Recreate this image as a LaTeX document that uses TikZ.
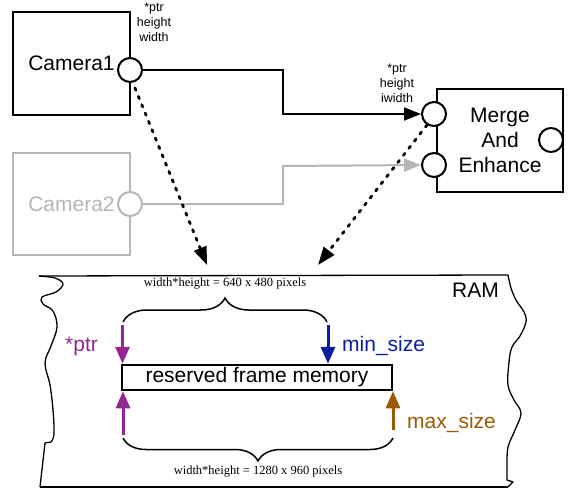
\documentclass[tikz,border=0pt]{standalone}
\usepackage{fontspec}
\setmainfont{Liberation Sans}
\newfontfamily\serifx{Liberation Serif}
\usetikzlibrary{arrows.meta,decorations.pathreplacing,calc}
\definecolor{purp}{RGB}{147,39,143}
\definecolor{dblue}{RGB}{10,30,160}
\definecolor{brn}{RGB}{155,90,0}
\definecolor{lgray}{RGB}{182,182,182}
\begin{document}
\begin{tikzpicture}[x=1pt,y=-1pt,
  compbox/.style={draw, line width=2pt, inner sep=0pt, font=\fontsize{21}{25}\selectfont},
  port/.style={draw, circle, fill=white, line width=2pt, minimum size=24pt, inner sep=0pt},
  conn/.style={line width=2pt, -{Triangle[length=17pt,width=13pt]}},
  dotarrow/.style={line width=2.8pt, line cap=round, dash pattern=on 2.5pt off 6.5pt, -{Triangle[length=18pt,width=13pt]}},
  smalllab/.style={align=center, font=\fontsize{12.5}{15}\selectfont, inner sep=0pt},
  biglab/.style={font=\fontsize{21}{25}\selectfont, inner sep=0pt},
  seriflab/.style={font=\serifx\fontsize{12.5}{15}\selectfont, inner sep=0pt},
  colarrow/.style={line width=3pt, -{Triangle[length=17pt,width=14pt]}},
  bracestyle/.style={line width=1.5pt, decorate, decoration={brace, amplitude=24pt, aspect=0.5}},
  ramline/.style={line width=1.3pt, line join=round}
]
\useasboundingbox (0,0) rectangle (572,489);

% components
\node[compbox, minimum width=117pt, minimum height=103pt] (cam1) at (71.5,63.5) {Camera1};
\node[compbox, draw=lgray, text=lgray, minimum width=117pt, minimum height=102pt] (cam2) at (71.5,204) {Camera2};
\node[compbox, minimum width=126pt, minimum height=103pt, align=center] (merge) at (500,140.5) {Merge\\And\\Enhance};

\node[port] (p1) at (130,70) {};
\node[port, draw=lgray] (p2) at (130,204) {};
\node[port] (m1) at (434,114) {};
\node[port] (m2) at (434,165) {};
\node[port] (m3) at (551,140) {};

% labels
\node[smalllab] (l1) at (154,22.5) {*ptr\\height\\width};
\node[smalllab] (l2) at (397,83) {*ptr\\height\\iwidth};

% connectors
\coordinate (b1) at (283,70);
\coordinate (b2) at (283,114);
\draw[conn, line join=miter] (p1.east) -- (b1) -- (b2) -- (m1.west);
\coordinate (g1) at (283,204);
\coordinate (g2) at (283,166);
\draw[conn, lgray] (p2.east) -- (g1) -- (g2) -- (m2.west);

% RAM
\coordinate (r1) at (39,276);
\coordinate (r2) at (508,275);
\coordinate (r3) at (508,487);
\coordinate (r4) at (40,487);
\draw[ramline] (r1) -- (r2);
\draw[ramline] (r4) -- (r3);
\draw[ramline] plot[smooth, tension=0.6] coordinates {(508,275) (511,288) (516,300) (524,312) (526,322) (520,336) (512,347) (509,362) (508,385) (514,400) (521,413) (515,430) (508,447) (507,465) (507,480)} -- (513,482) -- (508,487);
\draw[ramline] plot[smooth, tension=0.6] coordinates {(39,276) (55,278) (63,284) (56,292) (42,297) (43,304) (53,311) (57,327) (51,346) (45,363) (50,385) (53,410) (54,434) (51,442)} -- (45,443) -- (40,487);
\node[biglab, anchor=base east] (ram) at (499,297) {RAM};

% memory box
\node[draw, line width=2.5pt, minimum width=270pt, minimum height=25pt, inner sep=0pt, font=\fontsize{21}{25}\selectfont] (mem) at (257,377.5) {reserved frame memory};

% dotted arrows
\coordinate (d1s) at (135,88);
\coordinate (d1e) at (207,265);
\coordinate (d2s) at (427,125);
\coordinate (d2e) at (318,265);
\draw[dotarrow] (d1s) -- (d1e);
\draw[dotarrow] (d2s) -- (d2e);

% colored arrows
\coordinate (a1s) at (122.5,325);
\coordinate (a2s) at (328,325);
\coordinate (a3s) at (123,435);
\coordinate (a4s) at (393,430);
\draw[colarrow, purp] (a1s) -- (a1s |- mem.north);
\draw[colarrow, dblue] (a2s) -- (a2s |- mem.north);
\draw[colarrow, purp] (a3s) -- (a3s |- mem.south);
\draw[colarrow, brn] (a4s) -- (a4s |- mem.south);

\node[biglab, text=purp, anchor=base west] (lptr) at (65,351) {*ptr};
\node[biglab, text=dblue, anchor=base west] (lmin) at (342,351) {min\_size};
\node[biglab, text=brn, anchor=base west] (lmax) at (407,428) {max\_size};

% braces
\coordinate (bt1) at (123,322);
\coordinate (bt2) at (327,322);
\draw[bracestyle] (bt1) -- (bt2);
\node[seriflab] (bt) at (225,284) {width*height = 640 x 480 pixels};
\coordinate (bb1) at (393,438);
\coordinate (bb2) at (123,438);
\draw[bracestyle, decoration={amplitude=23pt}] (bb1) -- (bb2);
\node[seriflab] (bb) at (258,472) {width*height = 1280 x 960 pixels};
\end{tikzpicture}
\end{document}
